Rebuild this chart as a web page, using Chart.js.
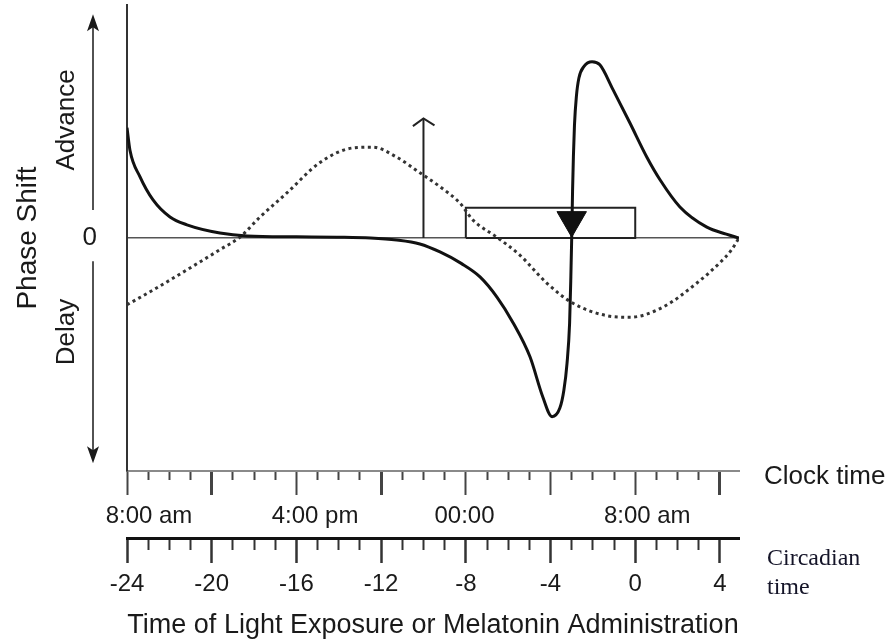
<!DOCTYPE html>
<html>
<head>
<meta charset="utf-8">
<script src="https://cdn.jsdelivr.net/npm/chart.js@4.4.1/dist/chart.umd.min.js"></script>
<style>
html, body { margin: 0; padding: 0; background: #fff; }
canvas { display: block; }
</style>
</head>
<body>
<canvas id="prc" width="893" height="644"></canvas>
<script>
// values, x in circadian hours, y in arbitrary phase-shift units
const solidX = [-24, -23.86, -23.39, -22.77, -21.97, -21.17, -19.61, -18.33, -16, -14.1, -12.5, -11.26, -10.17, -9.22, -8.2, -7.33, -6.53, -5.77, -4.97, -4.36, -3.93, -3.56, -3.37, -3.22, -3.1, -3.04, -3.0, -2.96, -2.92, -2.87, -2.78, -2.66, -2.42, -2.04, -1.67, -1.05, -0.25, 0.55, 1.17, 2.11, 3.38, 4.3, 4.9];
const solidY = [1.42, 1.13, 0.79, 0.49, 0.27, 0.17, 0.064, 0.026, 0.015, 0.01, 0.0, -0.026, -0.077, -0.18, -0.33, -0.5, -0.76, -1.09, -1.53, -2.05, -2.3, -2.19, -1.96, -1.61, -1.1, -0.5, 0.0, 0.6, 1.05, 1.45, 1.82, 2.06, 2.21, 2.27, 2.23, 1.91, 1.48, 1.04, 0.75, 0.4, 0.14, 0.05, 0];
const dottedX = [-24, -22.77, -21.17, -19.61, -18.67, -17.72, -16.45, -14.9, -13.33, -12.39, -11.26, -10.17, -9.22, -8.28, -7.66, -6.53, -5.45, -4.18, -2.94, -1.34, -0.25, 1.31, 2.91, 3.99, 4.5, 4.9];
const dottedY = [-0.86, -0.67, -0.41, -0.15, 0.01, 0.27, 0.58, 0.97, 1.16, 1.17, 1.04, 0.84, 0.66, 0.45, 0.23, 0.01, -0.22, -0.58, -0.84, -1.0, -1.02, -0.89, -0.58, -0.32, -0.17, 0];
const boxX = [-8, -8, 0, 0, -8];
const boxY = [0, 0.39, 0.39, 0, 0];
const arrowX = [-10, -10];
const arrowY = [0, 1.54];
const arrowHeadX = [-10.5, -10, -9.48];
const arrowHeadY = [1.44, 1.54, 1.45];
const markerX = [-3];
const markerY = [0.23];

const hourTicks = [-24, -23, -22, -21, -20, -19, -18, -17, -16, -15, -14, -13, -12, -11, -10, -9, -8, -7, -6, -5, -4, -3, -2, -1, 0, 1, 2, 3, 4];
const circadianTicks = [-24, -20, -16, -12, -8, -4, 0, 4];
const clockTicks = [-24, -16, -8, 0];
const clockLabels = ['8:00 am', '4:00 pm', '00:00', '8:00 am'];

// labels in the picture sit a little off their ticks: spaces, + before / - after
const clockLabelPad = [3, 2, -4, 0];

const pts = (xs, ys) => xs.map((x, i) => ({ x: x, y: ys[i] }));
const FONT = '"Liberation Sans", Arial, Helvetica, sans-serif';
const INK = '#1a1a1a';

const sideText = {
  id: 'sideText',
  afterDraw(chart) {
    const ctx = chart.ctx;
    const y = chart.scales.y;
    const area = chart.chartArea;
    const ax = area.left - 34;
    ctx.save();
    ctx.fillStyle = INK;
    ctx.strokeStyle = INK;
    ctx.lineWidth = 1.5;
    // double arrow on the left
    const top = y.getPixelForValue(2.88), bot = y.getPixelForValue(-2.9);
    ctx.beginPath();
    ctx.moveTo(ax, y.getPixelForValue(0.36)); ctx.lineTo(ax, top + 10);
    ctx.moveTo(ax, y.getPixelForValue(-0.3)); ctx.lineTo(ax, bot - 10);
    ctx.stroke();
    ctx.beginPath();
    ctx.moveTo(ax, top); ctx.lineTo(ax - 6, top + 17); ctx.lineTo(ax, top + 13); ctx.lineTo(ax + 6, top + 17); ctx.closePath();
    ctx.moveTo(ax, bot); ctx.lineTo(ax - 6, bot - 17); ctx.lineTo(ax, bot - 13); ctx.lineTo(ax + 6, bot - 17); ctx.closePath();
    ctx.fill();

    ctx.font = '26px ' + FONT;
    ctx.textAlign = 'center';
    ctx.textBaseline = 'middle';
    ctx.save();
    ctx.translate(area.left - 60, y.getPixelForValue(1.52));
    ctx.rotate(-Math.PI / 2);
    ctx.fillText('Advance', 0, 0);
    ctx.restore();
    ctx.save();
    ctx.translate(area.left - 60, y.getPixelForValue(-1.21));
    ctx.rotate(-Math.PI / 2);
    ctx.fillText('Delay', 0, 0);
    ctx.restore();

    ctx.textAlign = 'left';
    ctx.fillText('Clock time', area.right + 25, chart.scales.x.top + 6);
    ctx.font = '24px "Liberation Serif", "Times New Roman", serif';
    ctx.fillStyle = '#141428';
    ctx.fillText('Circadian', area.right + 28, chart.scales.x2.top + 21);
    ctx.fillText('time', area.right + 28, chart.scales.x2.top + 50);
    ctx.restore();
  }
};

new Chart(document.getElementById('prc'), {
  type: 'line',
  data: {
    datasets: [
      { data: pts(markerX, markerY), showLine: false, pointStyle: 'triangle', rotation: 180, pointRadius: 17, pointBackgroundColor: '#111', pointBorderColor: '#111' },
      { data: pts(solidX, solidY), borderColor: '#111', borderWidth: 3, pointRadius: 0, cubicInterpolationMode: 'monotone' },
      { data: pts(dottedX, dottedY), borderColor: '#333', borderWidth: 3, borderDash: [3, 3.5], pointRadius: 0, cubicInterpolationMode: 'monotone' },
      { data: pts(boxX, boxY), borderColor: '#222', borderWidth: 2, pointRadius: 0, tension: 0 },
      { data: pts(arrowX, arrowY), borderColor: '#222', borderWidth: 2, pointRadius: 0, tension: 0 },
      { data: pts(arrowHeadX, arrowHeadY), borderColor: '#222', borderWidth: 2, pointRadius: 0, tension: 0 }
    ]
  },
  options: {
    responsive: false,
    animation: false,
    layout: { autoPadding: false, padding: { top: 5, right: 154, bottom: 0, left: 0 } },
    plugins: { legend: { display: false }, tooltip: { enabled: false } },
    scales: {
      x: {
        type: 'linear', position: 'bottom', weight: 1, min: -24, max: 4.9,
        afterBuildTicks: s => { s.ticks = hourTicks.map(v => ({ value: v })); },
        afterFit: s => { s.height = 67; },
        border: { display: true, color: '#8a8a8a', width: 2 },
        grid: {
          drawOnChartArea: false, drawTicks: true, tickLength: 24, tickColor: '#444',
          tickWidth: c => [-20, -12, 4].includes(c.tick.value) ? 3 : 2,
          tickBorderDash: c => circadianTicks.includes(c.tick.value) ? [] : [8, 40]
        },
        ticks: {
          autoSkip: false, maxRotation: 0, minRotation: 0, padding: 7, labelOffset: 12, color: INK,
          font: { family: FONT, size: 24 },
          callback: v => {
            const i = clockTicks.indexOf(v);
            if (i < 0) return '';
            const p = clockLabelPad[i];
            return p >= 0 ? ' '.repeat(p) + clockLabels[i] : clockLabels[i] + ' '.repeat(-p);
          }
        }
      },
      x2: {
        type: 'linear', position: 'bottom', weight: 2, min: -24, max: 4.9,
        afterBuildTicks: s => { s.ticks = hourTicks.map(v => ({ value: v })); },
        afterFit: s => { s.height = 106; },
        border: { display: true, color: '#111', width: 3 },
        grid: {
          drawOnChartArea: false, drawTicks: true, tickLength: 25, tickColor: '#333',
          tickWidth: c => circadianTicks.includes(c.tick.value) ? 2.5 : 2,
          tickBorderDash: c => circadianTicks.includes(c.tick.value) ? [] : [10, 40]
        },
        ticks: {
          autoSkip: false, maxRotation: 0, minRotation: 0, padding: 7, color: INK,
          font: { family: FONT, size: 24 },
          callback: v => circadianTicks.includes(v) ? String(v) : ''
        },
        title: {
          display: true, text: 'Time of Light Exposure or Melatonin Administration',
          color: INK, font: { family: FONT, size: 27 }, padding: { top: 0, bottom: 2 }
        }
      },
      y: {
        type: 'linear', position: 'left', min: -3, max: 3,
        afterBuildTicks: s => { s.ticks = [{ value: 0 }]; },
        afterFit: s => { s.width = 127; s.paddingTop = 0; s.paddingBottom = 0; },
        border: { display: true, color: '#333', width: 2 },
        grid: { drawOnChartArea: true, drawTicks: false, color: '#555', lineWidth: 1.5 },
        ticks: { padding: 30, color: INK, font: { family: FONT, size: 26, lineHeight: 0.2 }, callback: () => '0' },
        title: {
          display: true, text: 'Phase Shift', color: INK,
          font: { family: FONT, size: 28 }, padding: { top: 11, bottom: 0 }
        }
      }
    }
  },
  plugins: [sideText]
});
</script>
</body>
</html>
